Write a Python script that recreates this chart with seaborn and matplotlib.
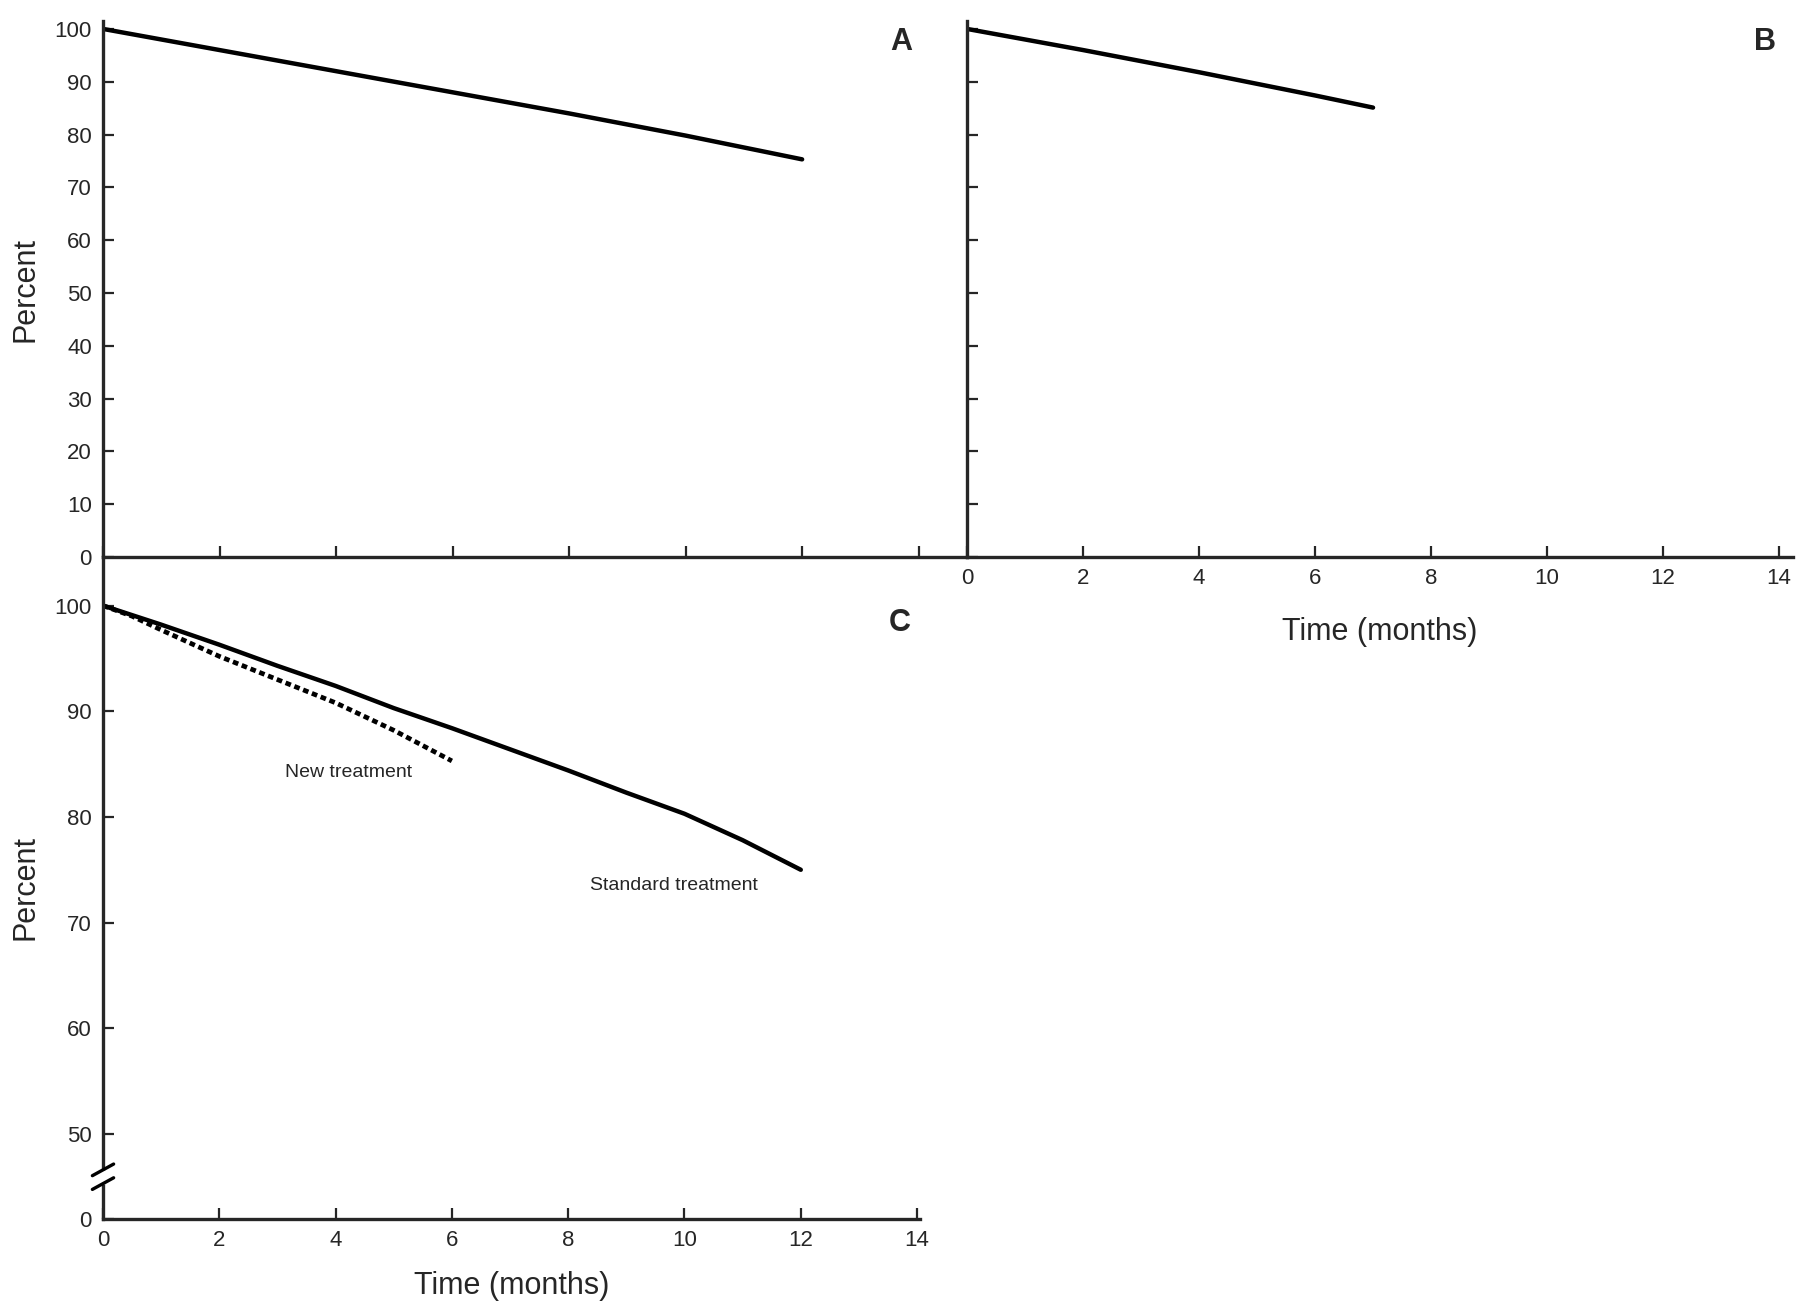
import matplotlib
matplotlib.use('Agg')
import matplotlib.pyplot as plt
import numpy as np
import pandas as pd
import seaborn as sns


# Panel A: standard treatment only
months_a = [0, 2, 4, 6, 8, 10, 12]
percent_a = [100, 96, 92, 88, 84, 79.8, 75.3]

# Panel B: new treatment only
months_b = [0, 2, 4, 6, 7]
percent_b = [100, 96, 91.8, 87.4, 85.1]

# Panel C: both treatments
months_std = [0, 1, 2, 3, 4, 5, 6, 7, 8, 9, 10, 11, 12]
percent_std = [100, 98.2, 96.3, 94.3, 92.4, 90.3, 88.4, 86.4, 84.4, 82.3, 80.3, 77.8, 75]
months_new = [0, 0.5, 1, 2, 3, 4, 5, 6]
percent_new = [100, 99.0, 97.7, 95.2, 93.0, 90.8, 88.2, 85.3]

x_ticks = [0, 2, 4, 6, 8, 10, 12, 14]
y_ticks_full = [0, 10, 20, 30, 40, 50, 60, 70, 80, 90, 100]
y_ticks_c = [50, 60, 70, 80, 90, 100]
c_zero_pos = 41.95   # where the "0" of the broken axis sits


sns.set_style('ticks')
plt.rcParams['font.family'] = ['Liberation Sans', 'DejaVu Sans']

W, H = 1800, 1307
fig = plt.figure(figsize=(W / 100, H / 100), dpi=100)


def rect(x0, y0, x1, y1):
    # pixel box (top-left origin) -> figure fraction
    return [x0 / W, 1 - y1 / H, (x1 - x0) / W, (y1 - y0) / H]


ax_c = fig.add_axes(rect(103, 557, 920, 1219))
ax_a = fig.add_axes(rect(103, 21, 967, 557))
ax_b = fig.add_axes(rect(967, 21, 1793, 557))

line_kw = dict(color='black', linewidth=3.2, legend=False)

sns.lineplot(x=months_a, y=percent_a, ax=ax_a, **line_kw)
sns.lineplot(x=months_b, y=percent_b, ax=ax_b, **line_kw)
sns.lineplot(x=months_std, y=percent_std, ax=ax_c, **line_kw)
sns.lineplot(x=months_new, y=percent_new, ax=ax_c, color='black', linewidth=3.4,
             linestyle=(0, (1.2, 0.8)), legend=False)

for ax in (ax_a, ax_b, ax_c):
    sns.despine(ax=ax)
    ax.set_facecolor('none')
    ax.spines['left'].set_linewidth(2.4)
    ax.spines['bottom'].set_linewidth(2.4)
    ax.tick_params(direction='in', length=8, width=1.6, labelsize=16, pad=8)
    ax.set_xticks(x_ticks)

# A
ax_a.set_xlim(0, 14.83)
ax_a.set_ylim(0, 101.5)
ax_a.set_yticks(y_ticks_full)
ax_a.set_xticklabels([])
ax_a.set_ylabel('Percent', fontsize=22, labelpad=10)
ax_a.text(13.7, 97.5, 'A', fontsize=22, fontweight='heavy', ha='center', va='center')

# B
ax_b.set_xlim(0, 14.24)
ax_b.set_ylim(0, 101.5)
ax_b.set_yticks(y_ticks_full)
ax_b.set_yticklabels([])
ax_b.set_xlabel('Time (months)', fontsize=22, labelpad=20)
ax_b.text(13.75, 97.5, 'B', fontsize=22, fontweight='heavy', ha='center', va='center')

# C, broken y axis
ax_c.set_xlim(0, 14.05)
ax_c.set_ylim(c_zero_pos, 104.6)
ax_c.set_yticks([c_zero_pos] + y_ticks_c)
ax_c.set_yticklabels(['0'] + [str(v) for v in y_ticks_c])
ax_c.set_ylabel('Percent', fontsize=22, labelpad=10)
ax_c.set_xlabel('Time (months)', fontsize=22, labelpad=14)
ax_c.text(13.7, 98.4, 'C', fontsize=22, fontweight='heavy', ha='center', va='center')
ax_c.text(4.22, 84.2, 'New treatment', fontsize=14, ha='center', va='center')
ax_c.text(9.82, 73.5, 'Standard treatment', fontsize=14, ha='center', va='center')

# break marks on C's y axis
trans = ax_c.get_yaxis_transform()
ax_c.plot([0, 0], [45.3, 46.6], transform=trans, color='white', linewidth=5,
          clip_on=False, zorder=5, solid_capstyle='butt')
for yb in (45.3, 46.6):
    ax_c.plot([-0.013, 0.013], [yb - 0.55, yb + 0.55], transform=trans, color='black',
              linewidth=2.4, clip_on=False, zorder=6)

plt.savefig('out.png', dpi=100)
